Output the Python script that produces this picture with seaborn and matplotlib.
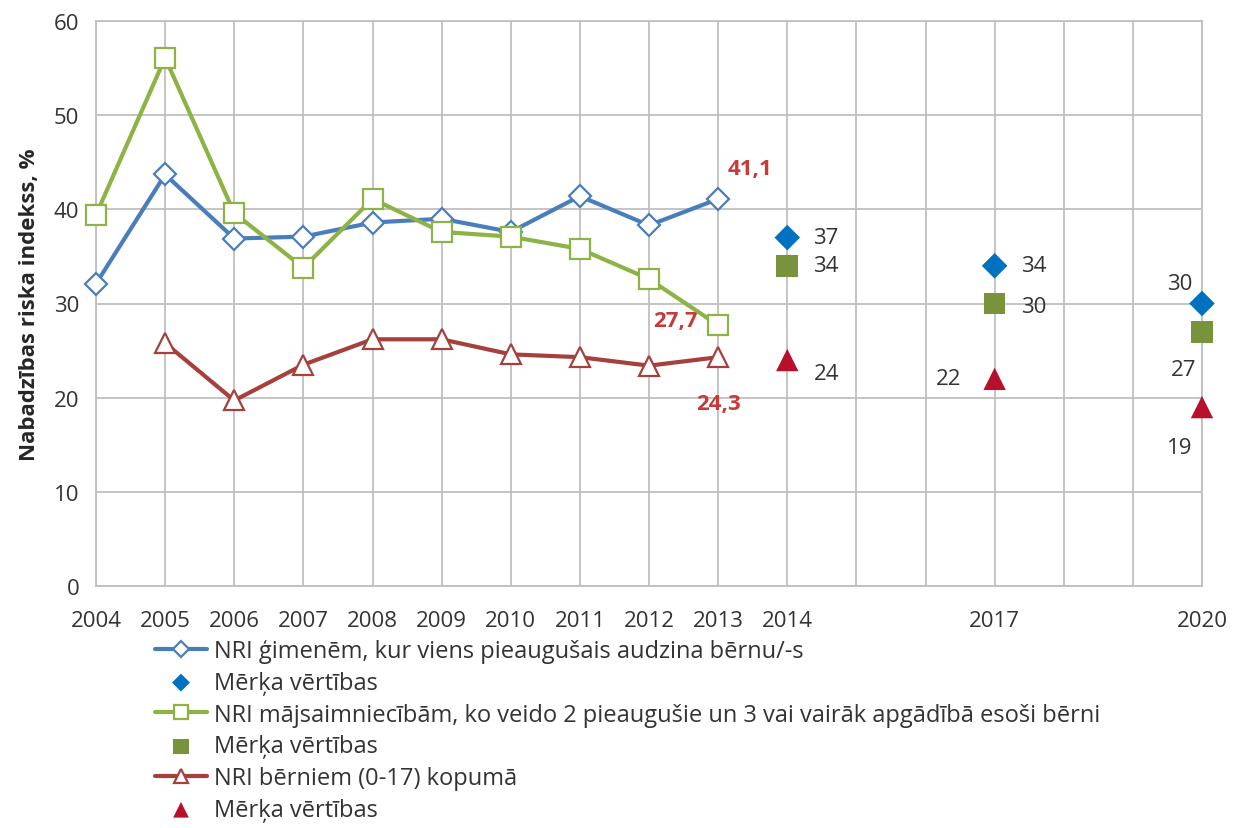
import matplotlib
matplotlib.use("Agg")
import matplotlib.pyplot as plt
import seaborn as sns
import numpy as np
import pandas as pd

# Gadi uz x ass (visas pozīcijas, daļa bez nosaukuma)
gadi = list(range(2004, 2021))
gadu_nosaukumi = ['2004', '2005', '2006', '2007', '2008', '2009', '2010', '2011',
                  '2012', '2013', '2014', '', '', '2017', '', '', '2020']

# Faktiskie dati 2004-2013
gadi_fakts = list(range(2004, 2014))
nri_viens = [32.1, 43.7, 36.9, 37.1, 38.6, 39.0, 37.6, 41.4, 38.3, 41.1]
nri_majsaimn = [39.4, 56.1, 39.6, 33.8, 41.1, 37.6, 37.1, 35.8, 32.6, 27.7]
gadi_berni = list(range(2005, 2014))
nri_berni = [25.8, 19.7, 23.5, 26.2, 26.2, 24.6, 24.3, 23.4, 24.3]

# Mērķa vērtības
gadi_merkis = [2014, 2017, 2020]
merkis_viens = [37, 34, 30]
merkis_majsaimn = [34, 30, 27]
merkis_berni = [24, 22, 19]

# Krāsas
zila, zila_m = '#4A7EBB', '#0070C0'
zala, zala_m = '#8DB346', '#77933C'
sarkana, sarkana_m = '#A5403D', '#B8102A'
teksts_sark = '#C83A3A'

sns.set_style('white')
plt.rcParams['font.family'] = ['Open Sans', 'DejaVu Sans']

fig = plt.figure(figsize=(12.34, 8.29), dpi=100)
ax = fig.add_axes([96 / 1234, 1 - 587 / 829, (1202 - 96) / 1234, (587 - 22) / 829])

def poz(g):
    return [gadi.index(v) for v in g]

df_viens = pd.DataFrame({'x': poz(gadi_fakts), 'y': nri_viens})
df_maj = pd.DataFrame({'x': poz(gadi_fakts), 'y': nri_majsaimn})
df_ber = pd.DataFrame({'x': poz(gadi_berni), 'y': nri_berni})
df_m1 = pd.DataFrame({'x': poz(gadi_merkis), 'y': merkis_viens})
df_m2 = pd.DataFrame({'x': poz(gadi_merkis), 'y': merkis_majsaimn})
df_m3 = pd.DataFrame({'x': poz(gadi_merkis), 'y': merkis_berni})

kopigi = dict(linewidth=3, markerfacecolor='white', markeredgewidth=1.6,
              clip_on=False, zorder=4)
sns.lineplot(data=df_viens, x='x', y='y', ax=ax, color=zila, marker='D', markersize=11,
             markeredgecolor=zila,
             label='NRI ģimenēm, kur viens pieaugušais audzina bērnu/-s', **kopigi)
sns.scatterplot(data=df_m1, x='x', y='y', ax=ax, color=zila_m, marker='D', s=170,
                edgecolor='none', label='Mērķa vērtības', clip_on=False, zorder=5)
sns.lineplot(data=df_maj, x='x', y='y', ax=ax, color=zala, marker='s', markersize=15,
             markeredgecolor=zala,
             label='NRI mājsaimniecībām, ko veido 2 pieaugušie un 3 vai vairāk apgādībā esoši bērni',
             **kopigi)
sns.scatterplot(data=df_m2, x='x', y='y', ax=ax, color=zala_m, marker='s', s=240,
                edgecolor='none', label='Mērķa vērtības', clip_on=False, zorder=5)
sns.lineplot(data=df_ber, x='x', y='y', ax=ax, color=sarkana, marker='^', markersize=15,
             markeredgecolor=sarkana, label='NRI bērniem (0-17) kopumā', **kopigi)
sns.scatterplot(data=df_m3, x='x', y='y', ax=ax, color=sarkana_m, marker='^', s=260,
                edgecolor='none', label='Mērķa vērtības', clip_on=False, zorder=5)

# Vērtību nosaukumi
def uzraksts(x, y, txt, dx, dy, color='#333333', bold=False, ha='center'):
    ax.annotate(txt, (x, y), xytext=(dx, dy), textcoords='offset pixels',
                ha=ha, va='center', fontsize=16, color=color,
                fontweight='bold' if bold else 'normal')

uzraksts(gadi.index(2013), nri_viens[-1], '41,1', 32, 30, teksts_sark, True)
uzraksts(gadi.index(2013), nri_majsaimn[-1], '27,7', -20, 5, teksts_sark, True, ha='right')
uzraksts(gadi.index(2013), nri_berni[-1], '24,3', 0, -46, teksts_sark, True)

nobid_1 = [(39, 0), (39, 0), (-22, 20)]
nobid_2 = [(39, 0), (39, -3), (-18, -38)]
nobid_3 = [(39, -14), (-46, 0), (-22, -40)]
for i, g in enumerate(gadi_merkis):
    x = gadi.index(g)
    uzraksts(x, merkis_viens[i], str(merkis_viens[i]), *nobid_1[i])
    uzraksts(x, merkis_majsaimn[i], str(merkis_majsaimn[i]), *nobid_2[i])
    uzraksts(x, merkis_berni[i], str(merkis_berni[i]), *nobid_3[i])

ax.set_xlim(0, len(gadi) - 1)
ax.set_ylim(0, 60)
ax.set_xticks(range(len(gadi)))
ax.set_xticklabels(gadu_nosaukumi, fontsize=16, color='#333333')
ax.set_yticks(range(0, 61, 10))
ax.tick_params(axis='y', labelsize=16, labelcolor='#333333', length=0, pad=12)
ax.tick_params(axis='x', length=0, pad=17)
ax.grid(True, color='#BFBFBF', linewidth=1.3)
for s in ax.spines.values():
    s.set_color('#BFBFBF')
    s.set_linewidth(1.3)
ax.set_xlabel('')
ax.set_ylabel('Nabadzības riska indekss, %', fontsize=16, fontweight='bold', labelpad=10)

handles, labels = ax.get_legend_handles_labels()
ax.get_legend().remove()
fig.legend(handles, labels, loc='upper left', bbox_to_anchor=(155 / 1234, 1 - 640 / 829),
           frameon=False, fontsize=17, labelspacing=0.33, handlelength=2.2, markerscale=0.7,
           handletextpad=0.3, borderaxespad=0, borderpad=0, labelcolor='#333333')

fig.savefig('out.png', dpi=100)
